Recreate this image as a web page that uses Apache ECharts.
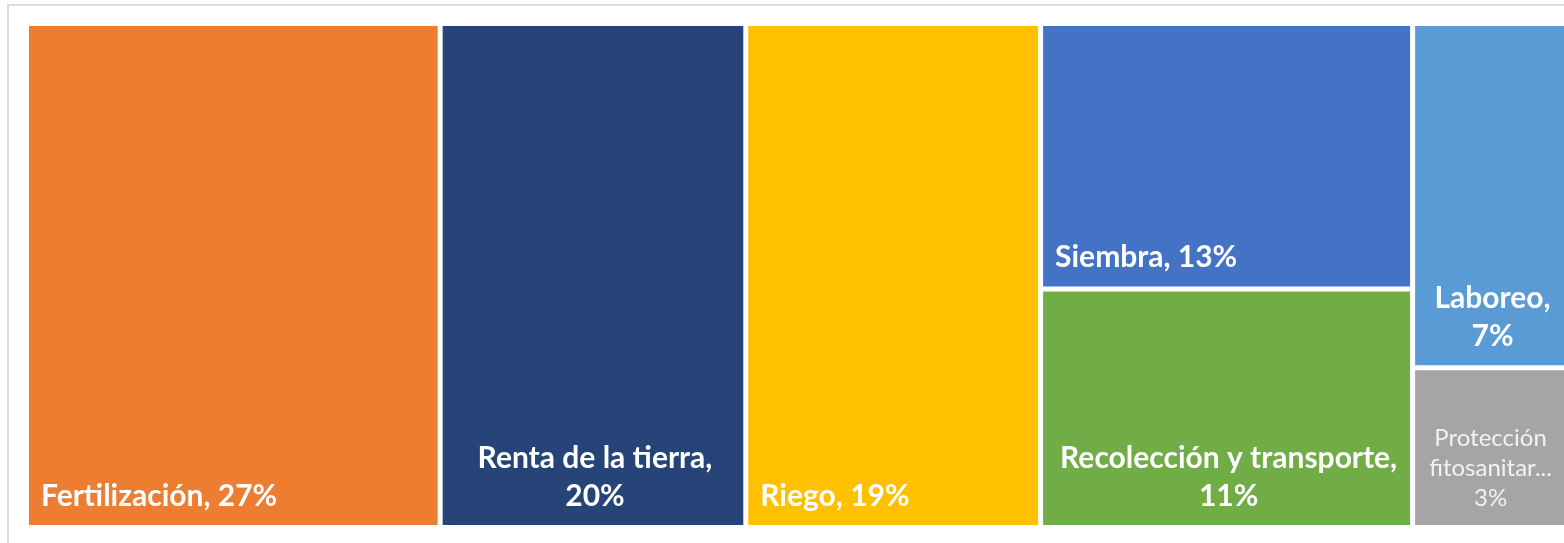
<!DOCTYPE html>
<html>
<head>
<meta charset="utf-8">
<script src="https://cdn.jsdelivr.net/npm/echarts@6/dist/echarts.min.js"></script>
<style>
  html, body { margin: 0; padding: 0; background: #fff; overflow: hidden; }
  #frame {
    position: absolute; left: 7px; top: 4px; width: 1700px; height: 700px;
    border: 2px solid #dcdcdc; box-sizing: border-box;
  }
  #chart { position: absolute; left: 0; top: 0; width: 1564px; height: 543px; }
</style>
</head>
<body>
<div id="frame"></div>
<div id="chart"></div>
<script>
// Reparto de costes (porcentaje)
const categories = [
  "Fertilización",
  "Renta de la tierra",
  "Riego",
  "Siembra",
  "Recolección y transporte",
  "Laboreo",
  "Protección fitosanitaria",
];
const shares = [26.8, 19.8, 19.1, 12.7, 11.4, 6.9, 3.2];
const colors = ["#ED7D31", "#264478", "#FFC000", "#4472C4", "#70AD47", "#5B9BD5", "#A5A5A5"];
// como parte Excel la etiqueta: en una línea, % debajo, o cada palabra en su línea
const labelWrap = ["none", "pct", "none", "none", "pct", "pct", "words"];

const chart = echarts.init(document.getElementById("chart"));

function labelText(params) {
  const i = categories.indexOf(params.name);
  if (i < 0) return "";
  const pct = Math.round(params.value) + "%";
  const wrap = labelWrap[i];
  if (wrap === "none") return params.name + ", " + pct;
  const name = wrap === "words" ? params.name.split(" ").join("\n") : params.name;
  return name + ",\n" + pct;
}

// etiquetas de una línea a la izquierda, las partidas centradas
function itemLabel(i) {
  const lbl = {
    position: labelWrap[i] === "none" ? "insideBottomLeft" : "insideBottom",
  };
  if (shares[i] < 5) {
    // cuadro pequeño: letra normal y más pequeña, se corta con "..."
    Object.assign(lbl, {
      fontWeight: "normal",
      fontSize: 24,
      lineHeight: 30,
      color: "#f2f2f2",
      padding: [0, 12, 12, 12],
    });
  }
  return lbl;
}

const option = {
  animation: false,
  series: [
    {
      type: "treemap",
      left: 29,
      top: 26,
      width: 1537,
      height: 499,
      roam: false,
      nodeClick: false,
      squareRatio: 1,
      sort: "desc",
      breadcrumb: { show: false },
      itemStyle: {
        gapWidth: 5,
        borderWidth: 0,
        borderColor: "#fff",
      },
      label: {
        show: true,
        position: "insideBottomLeft",
        verticalAlign: "bottom",
        distance: 0,
        padding: [0, 8, 10, 12],
        fontFamily: "Lato",
        fontWeight: "bold",
        fontSize: 30,
        lineHeight: 38,
        color: "#fff",
        formatter: labelText,
      },
      data: categories.map((name, i) => ({
        name: name,
        value: shares[i],
        itemStyle: { color: colors[i] },
        label: itemLabel(i),
      })),
    },
  ],
};

chart.setOption(option);
</script>
</body>
</html>
